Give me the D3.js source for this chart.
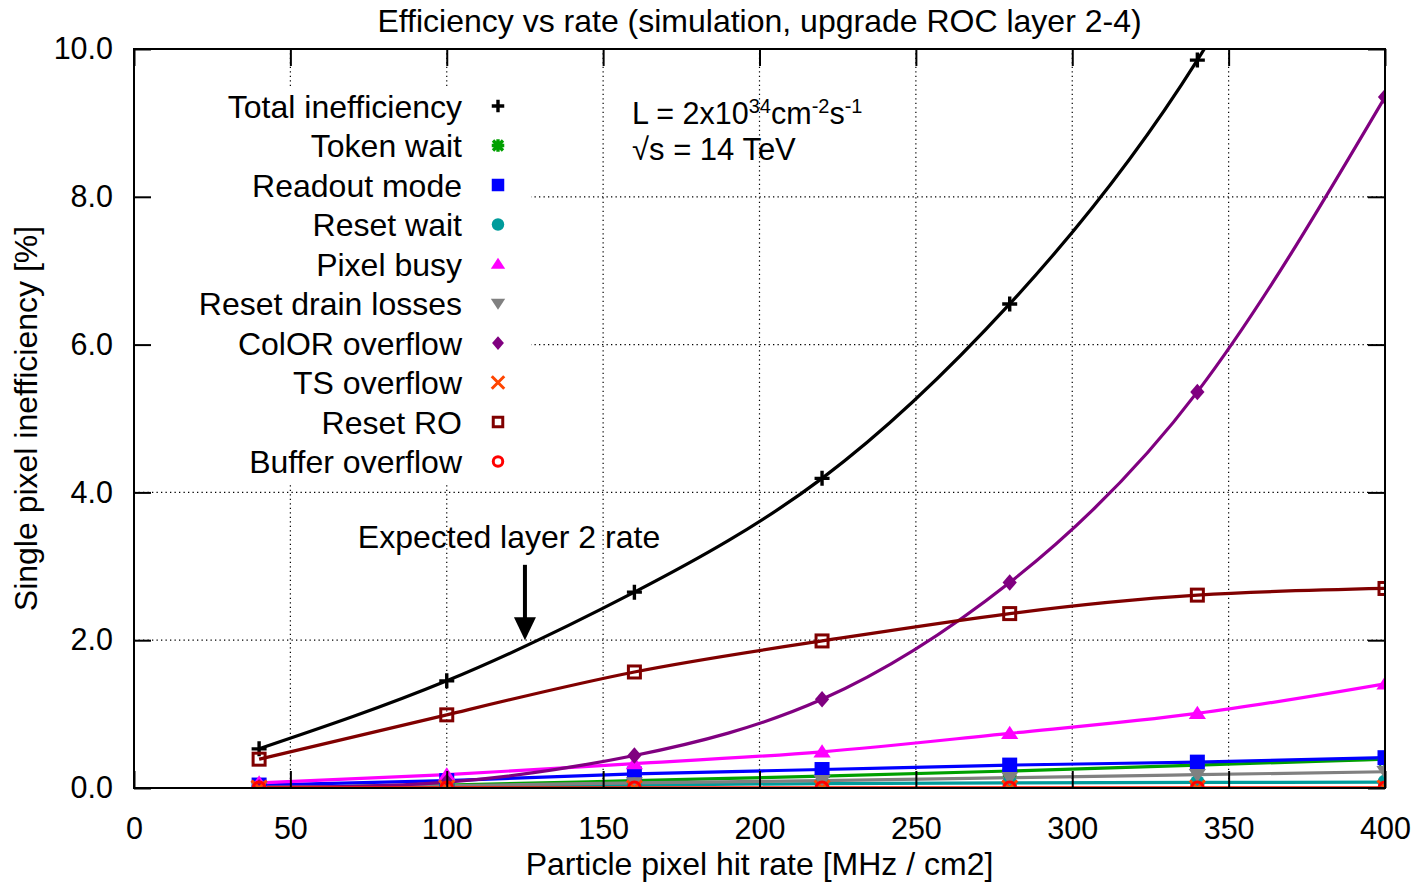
<!DOCTYPE html>
<html>
<head>
<meta charset="utf-8">
<script src="https://d3js.org/d3.v7.min.js"></script>
<style>
  body { margin: 0; background: #fff; }
  svg { display: block; font-family: "Liberation Sans", Arial, Helvetica, sans-serif; }
</style>
</head>
<body>
<svg id="chart"></svg>
<script>
const width = 1418;
const height = 884;

// hit rates [MHz / cm2]
const rates = [40, 100, 160, 220, 280, 340, 400];

// inefficiencies [%]
const totalIneff     = [0.53, 1.45, 2.65, 4.19, 6.55, 9.85, 14.5];
const tokenWait      = [0.01, 0.04, 0.10, 0.16, 0.23, 0.31, 0.39];
const readoutMode    = [0.04, 0.10, 0.19, 0.25, 0.31, 0.35, 0.41];
const resetWait      = [0.01, 0.02, 0.04, 0.06, 0.07, 0.075, 0.08];
const pixelBusy      = [0.07, 0.18, 0.33, 0.49, 0.74, 1.01, 1.41];
const resetDrain     = [0.01, 0.03, 0.07, 0.10, 0.14, 0.18, 0.22];
const colorOverflow  = [0.01, 0.08, 0.44, 1.20, 2.78, 5.36, 9.35];
const tsOverflow     = [0, 0, 0, 0, 0, 0, 0];
const resetRO        = [0.39, 0.99, 1.57, 1.99, 2.36, 2.61, 2.70];
const bufferOverflow = [0, 0, 0, 0, 0, 0, 0];

const xTicks = [0, 50, 100, 150, 200, 250, 300, 350, 400];
const yTicks = [0, 2, 4, 6, 8, 10];
const expectedRate = 125;

const series = [
  {name: "Total inefficiency", values: totalIneff,     color: "#000000", marker: "plus"},
  {name: "Token wait",         values: tokenWait,      color: "#00a000", marker: "star"},
  {name: "Readout mode",       values: readoutMode,    color: "#0000ff", marker: "square"},
  {name: "Reset wait",         values: resetWait,      color: "#009b9b", marker: "circle"},
  {name: "Pixel busy",         values: pixelBusy,      color: "#ff00ff", marker: "triangle"},
  {name: "Reset drain losses", values: resetDrain,     color: "#808080", marker: "triangleDown"},
  {name: "ColOR overflow",     values: colorOverflow,  color: "#800080", marker: "diamond"},
  {name: "TS overflow",        values: tsOverflow,     color: "#ff4500", marker: "cross"},
  {name: "Reset RO",           values: resetRO,        color: "#800000", marker: "openSquare"},
  {name: "Buffer overflow",    values: bufferOverflow, color: "#ff0000", marker: "openCircle"}
];

const margin = {top: 49, right: 33, bottom: 96, left: 134};
const textSize = 32;

const svg = d3.select("#chart").attr("width", width).attr("height", height);

const x = d3.scaleLinear().domain([0, 400]).range([margin.left, width - margin.right]);
const y = d3.scaleLinear().domain([0, 10]).range([height - margin.bottom, margin.top]);

svg.append("defs").append("clipPath").attr("id", "plotclip")
  .append("rect")
  .attr("x", x(0)).attr("y", y(10))
  .attr("width", x(400) - x(0)).attr("height", y(0) - y(10));

// grid
const grid = svg.append("g")
  .attr("stroke", "#000").attr("stroke-width", 1.2).attr("stroke-dasharray", "1.3,3.2");
grid.selectAll("line.v").data(xTicks.filter(d => d > 0 && d < 400)).join("line")
  .attr("x1", d => x(d)).attr("x2", d => x(d))
  .attr("y1", y(0)).attr("y2", y(10));
grid.selectAll("line.h").data(yTicks.filter(d => d > 0 && d < 10)).join("line")
  .attr("x1", x(0)).attr("x2", x(400))
  .attr("y1", d => y(d)).attr("y2", d => y(d));

// opaque key background
const keyX = 498, keyY0 = 106, keyStep = 39.5;
svg.append("rect")
  .attr("x", x(0) + 1).attr("y", keyY0 - 20)
  .attr("width", 530 - x(0)).attr("height", keyStep * series.length + 2)
  .attr("fill", "#fff");

function drawMarker(g, type, color, s) {
  const h = s / 2;
  switch (type) {
    case "plus":
      g.append("path").attr("d", `M${-h},0H${h}M0,${-h}V${h}`)
        .attr("stroke", color).attr("stroke-width", 3.4).attr("fill", "none");
      break;
    case "cross":
      g.append("path").attr("d", `M${-h},${-h}L${h},${h}M${-h},${h}L${h},${-h}`)
        .attr("stroke", color).attr("stroke-width", 3).attr("fill", "none");
      break;
    case "star":
      g.append("path").attr("d", `M${-h},0H${h}M0,${-h}V${h}M${-h*0.8},${-h*0.8}L${h*0.8},${h*0.8}M${-h*0.8},${h*0.8}L${h*0.8},${-h*0.8}`)
        .attr("stroke", color).attr("stroke-width", 3.4).attr("fill", "none");
      break;
    case "square":
      g.append("rect").attr("x", -h).attr("y", -h).attr("width", s).attr("height", s).attr("fill", color);
      break;
    case "openSquare":
      g.append("rect").attr("x", -h + 1.5).attr("y", -h + 1.5).attr("width", s - 3).attr("height", s - 3)
        .attr("fill", "none").attr("stroke", color).attr("stroke-width", 3);
      break;
    case "circle":
      g.append("circle").attr("r", h).attr("fill", color);
      break;
    case "openCircle":
      g.append("circle").attr("r", h - 1.5).attr("fill", "none").attr("stroke", color).attr("stroke-width", 3);
      break;
    case "triangle":
      g.append("path").attr("d", `M0,${-h}L${h*1.15},${h*0.75}L${-h*1.15},${h*0.75}Z`).attr("fill", color);
      break;
    case "triangleDown":
      g.append("path").attr("d", `M0,${h}L${h*1.15},${-h*0.75}L${-h*1.15},${-h*0.75}Z`).attr("fill", color);
      break;
    case "diamond":
      g.append("path").attr("d", `M0,${-h*1.1}L${h*0.95},0L0,${h*1.1}L${-h*0.95},0Z`).attr("fill", color);
      break;
  }
}

// series
const plot = svg.append("g").attr("clip-path", "url(#plotclip)");
const line = d3.line().x(d => x(d[0])).y(d => y(d[1])).curve(d3.curveNatural);
series.forEach(s => {
  const pts = rates.map((r, i) => [r, s.values[i]]);
  plot.append("path").datum(pts)
    .attr("d", line).attr("fill", "none")
    .attr("stroke", s.color).attr("stroke-width", 3.2);
});
series.forEach(s => {
  rates.map((r, i) => [r, s.values[i]]).filter(p => p[1] <= 10).forEach(p => {
    const g = plot.append("g").attr("transform", `translate(${x(p[0])},${y(p[1])})`);
    drawMarker(g, s.marker, s.color, 15);
  });
});

// key
const key = svg.append("g").attr("font-size", textSize);
series.forEach((s, i) => {
  const yy = keyY0 + i * keyStep;
  key.append("text").attr("x", 462).attr("y", yy).attr("dy", "0.36em")
    .attr("text-anchor", "end").attr("fill", "#000").text(s.name);
  drawMarker(key.append("g").attr("transform", `translate(${keyX},${yy})`), s.marker, s.color, 12.5);
});

// axes (ticks inward on all four sides)
const tickLen = 17;
const fmtY = d3.format(".1f");
const gx = svg.append("g").attr("transform", `translate(0,${y(0)})`)
  .call(d3.axisBottom(x).tickValues(xTicks).tickSize(-tickLen).tickPadding(29).tickFormat(d3.format("d")));
const gy = svg.append("g").attr("transform", `translate(${x(0)},0)`)
  .call(d3.axisLeft(y).tickValues(yTicks).tickSize(-tickLen).tickPadding(21).tickFormat(fmtY));
const gt = svg.append("g").attr("transform", `translate(0,${y(10)})`)
  .call(d3.axisTop(x).tickValues(xTicks).tickSize(-tickLen).tickFormat(""));
const gr = svg.append("g").attr("transform", `translate(${x(400)},0)`)
  .call(d3.axisRight(y).tickValues(yTicks).tickSize(-tickLen).tickFormat(""));
[gx, gy, gt, gr].forEach(g => {
  g.select(".domain").remove();
  g.selectAll(".tick line").attr("stroke", "#000").attr("stroke-width", 2);
  g.selectAll(".tick text").attr("font-size", 30.5).attr("fill", "#000")
    .attr("font-family", "'Liberation Sans', Arial, sans-serif");
});

svg.append("rect")
  .attr("x", x(0)).attr("y", y(10))
  .attr("width", x(400) - x(0)).attr("height", y(0) - y(10))
  .attr("fill", "none").attr("stroke", "#000").attr("stroke-width", 2);

// arrow marking the expected layer 2 rate
const ax = x(expectedRate);
svg.append("line")
  .attr("x1", ax).attr("x2", ax)
  .attr("y1", y(3.02)).attr("y2", y(2.0) - 20)
  .attr("stroke", "#000").attr("stroke-width", 4);
svg.append("path")
  .attr("d", `M${ax - 11},${y(2.0) - 23}L${ax + 11},${y(2.0) - 23}L${ax},${y(2.0)}Z`)
  .attr("fill", "#000");
svg.append("text")
  .attr("x", 509).attr("y", 548).attr("text-anchor", "middle")
  .attr("font-size", textSize).text("Expected layer 2 rate");

// luminosity label
const lum = svg.append("text").attr("x", 632).attr("y", 124).attr("font-size", 30.5);
lum.append("tspan").text("L = 2x10");
lum.append("tspan").attr("font-size", 20).attr("dy", -11).text("34");
lum.append("tspan").attr("dy", 11).text("cm");
lum.append("tspan").attr("font-size", 20).attr("dy", -11).text("-2");
lum.append("tspan").attr("dy", 11).text("s");
lum.append("tspan").attr("font-size", 20).attr("dy", -11).text("-1");
svg.append("text").attr("x", 632).attr("y", 160).attr("font-size", 31).text("\u221As = 14 TeV");

// titles
svg.append("text")
  .attr("x", (x(0) + x(400)) / 2).attr("y", 32).attr("text-anchor", "middle")
  .attr("font-size", 32).text("Efficiency vs rate (simulation, upgrade ROC layer 2-4)");
svg.append("text")
  .attr("x", (x(0) + x(400)) / 2).attr("y", 875).attr("text-anchor", "middle")
  .attr("font-size", textSize).text("Particle pixel hit rate [MHz / cm2]");
svg.append("text")
  .attr("transform", `translate(37,${(y(0) + y(10)) / 2}) rotate(-90)`)
  .attr("text-anchor", "middle")
  .attr("font-size", textSize).text("Single pixel inefficiency [%]");
</script>
</body>
</html>
